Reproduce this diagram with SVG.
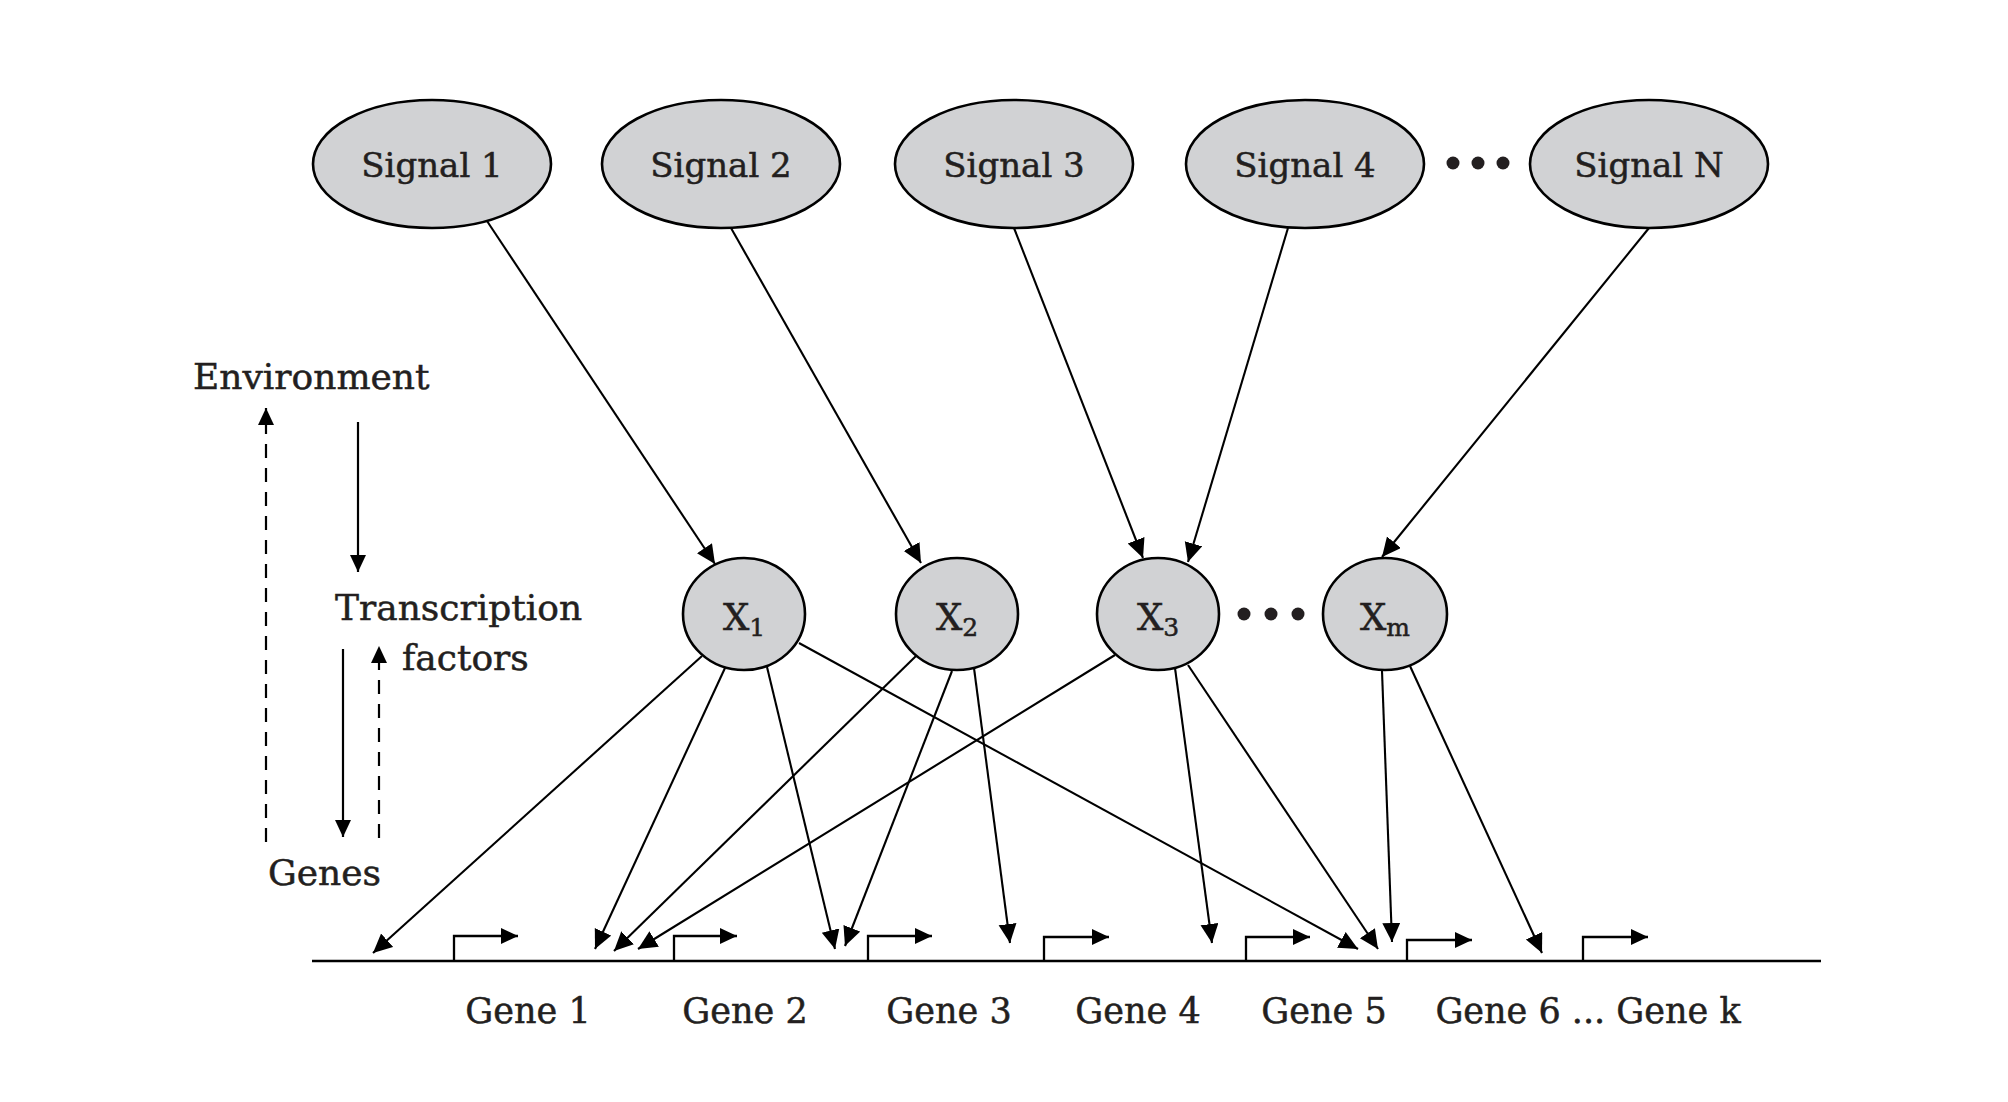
<svg xmlns="http://www.w3.org/2000/svg" width="2008" height="1102" viewBox="0 0 2008 1102">
  <defs>
    <marker id="head" markerUnits="userSpaceOnUse" markerWidth="22" markerHeight="20" refX="19" refY="9" orient="auto">
      <path d="M0,0 L19,9 L0,18 z" fill="#000"/>
    </marker>
    <marker id="head-sm" markerUnits="userSpaceOnUse" markerWidth="20" markerHeight="18" refX="17" refY="8" orient="auto">
      <path d="M0,0 L17,8 L0,16 z" fill="#000"/>
    </marker>
  </defs>
  <style>
    .node { fill: #d1d2d4; stroke: #000; stroke-width: 2.6; }
    .lbl { font-family: "DejaVu Serif", "Liberation Serif", serif; fill: #231f20; stroke: #231f20; stroke-width: 0.5; }
    .sig { font-size: 34px; text-anchor: middle; }
    .tf { font-size: 37px; text-anchor: middle; }
    .sub { font-size: 25px; }
    .gene { font-size: 35px; text-anchor: middle; }
    .side { font-size: 36px; }
    .edge { stroke: #000; stroke-width: 2.1; fill: none; marker-end: url(#head); }
    .solid { stroke: #000; stroke-width: 2.2; fill: none; marker-end: url(#head-sm); }
    .dash { stroke: #000; stroke-width: 2.2; fill: none; stroke-dasharray: 14 10; marker-end: url(#head-sm); }
    .prom { stroke: #000; stroke-width: 2.3; fill: none; marker-end: url(#head-sm); }
    .dot { fill: #231f20; }
  </style>

  <rect width="2008" height="1102" fill="#fff"/>

  <!-- signal nodes -->
  <g id="signal1"><ellipse class="node" cx="432" cy="164" rx="119" ry="64"/><text class="lbl sig" x="432" y="177">Signal 1</text></g>
  <g id="signal2"><ellipse class="node" cx="721" cy="164" rx="119" ry="64"/><text class="lbl sig" x="721" y="177">Signal 2</text></g>
  <g id="signal3"><ellipse class="node" cx="1014" cy="164" rx="119" ry="64"/><text class="lbl sig" x="1014" y="177">Signal 3</text></g>
  <g id="signal4"><ellipse class="node" cx="1305" cy="164" rx="119" ry="64"/><text class="lbl sig" x="1305" y="177">Signal 4</text></g>
  <g id="signalN"><ellipse class="node" cx="1649" cy="164" rx="119" ry="64"/><text class="lbl sig" x="1649" y="177">Signal N</text></g>
  <g id="signal-dots">
    <circle class="dot" cx="1453" cy="163" r="6.5"/>
    <circle class="dot" cx="1478" cy="163" r="6.5"/>
    <circle class="dot" cx="1503" cy="163" r="6.5"/>
  </g>

  <!-- transcription factor nodes -->
  <g id="x1"><ellipse class="node" cx="744" cy="614" rx="61" ry="56"/><text class="lbl tf" x="744" y="630">X<tspan class="sub" dy="6">1</tspan></text></g>
  <g id="x2"><ellipse class="node" cx="957" cy="614" rx="61" ry="56"/><text class="lbl tf" x="957" y="630">X<tspan class="sub" dy="6">2</tspan></text></g>
  <g id="x3"><ellipse class="node" cx="1158" cy="614" rx="61" ry="56"/><text class="lbl tf" x="1158" y="630">X<tspan class="sub" dy="6">3</tspan></text></g>
  <g id="xm"><ellipse class="node" cx="1385" cy="614" rx="62" ry="56"/><text class="lbl tf" x="1385" y="630">X<tspan class="sub" dy="6">m</tspan></text></g>
  <g id="tf-dots">
    <circle class="dot" cx="1244" cy="614" r="6.5"/>
    <circle class="dot" cx="1271" cy="614" r="6.5"/>
    <circle class="dot" cx="1298" cy="614" r="6.5"/>
  </g>

  <!-- gene strand with promoters -->
  <g id="genes">
    <line x1="312" y1="961" x2="1821" y2="961" stroke="#000" stroke-width="2.6"/>
    <polyline class="prom" points="454,961 454,936 518,936"/>
    <polyline class="prom" points="674,961 674,936 737,936"/>
    <polyline class="prom" points="868,961 868,936 932,936"/>
    <polyline class="prom" points="1044,961 1044,937 1109,937"/>
    <polyline class="prom" points="1246,961 1246,937 1310,937"/>
    <polyline class="prom" points="1407,961 1407,940 1472,940"/>
    <polyline class="prom" points="1583,961 1583,937 1648,937"/>
    <text class="lbl gene" x="528" y="1023">Gene 1</text>
    <text class="lbl gene" x="745" y="1023">Gene 2</text>
    <text class="lbl gene" x="949" y="1023">Gene 3</text>
    <text class="lbl gene" x="1138" y="1023">Gene 4</text>
    <text class="lbl gene" x="1324" y="1023">Gene 5</text>
    <text class="lbl gene" x="1588" y="1023">Gene 6 ... Gene k</text>
  </g>

  <!-- connectors -->
  <g id="connectors">
    <line class="edge" x1="487" y1="221" x2="715" y2="564"/>
    <line class="edge" x1="731" y1="228" x2="921" y2="563"/>
    <line class="edge" x1="1014" y1="228" x2="1143" y2="558"/>
    <line class="edge" x1="1288" y1="228" x2="1188" y2="562"/>
    <line class="edge" x1="1649" y1="228" x2="1382" y2="557"/>

    <line class="edge" x1="702" y1="656" x2="373" y2="953"/>
    <line class="edge" x1="725" y1="668" x2="595" y2="949"/>
    <line class="edge" x1="767" y1="667" x2="835" y2="949"/>
    <line class="edge" x1="799" y1="643" x2="1358" y2="949"/>

    <line class="edge" x1="916" y1="656" x2="614" y2="951"/>
    <line class="edge" x1="952" y1="671" x2="845" y2="946"/>
    <line class="edge" x1="974" y1="668" x2="1010" y2="943"/>

    <line class="edge" x1="1115" y1="655" x2="638" y2="949"/>
    <line class="edge" x1="1175" y1="668" x2="1212" y2="943"/>
    <line class="edge" x1="1188" y1="665" x2="1378" y2="949"/>

    <line class="edge" x1="1382" y1="671" x2="1392" y2="942"/>
    <line class="edge" x1="1410" y1="666" x2="1542" y2="953"/>
  </g>

  <!-- side legend: environment / transcription factors / genes -->
  <g id="legend">
    <text class="lbl side" x="193" y="389">Environment</text>
    <text class="lbl side" x="335" y="620">Transcription</text>
    <text class="lbl side" x="402" y="670">factors</text>
    <text class="lbl side" x="268" y="885">Genes</text>
    <line class="dash" x1="266" y1="842" x2="266" y2="408"/>
    <line class="solid" x1="358" y1="422" x2="358" y2="572"/>
    <line class="solid" x1="343" y1="649" x2="343" y2="837"/>
    <line class="dash" x1="379" y1="838" x2="379" y2="646"/>
  </g>
</svg>
